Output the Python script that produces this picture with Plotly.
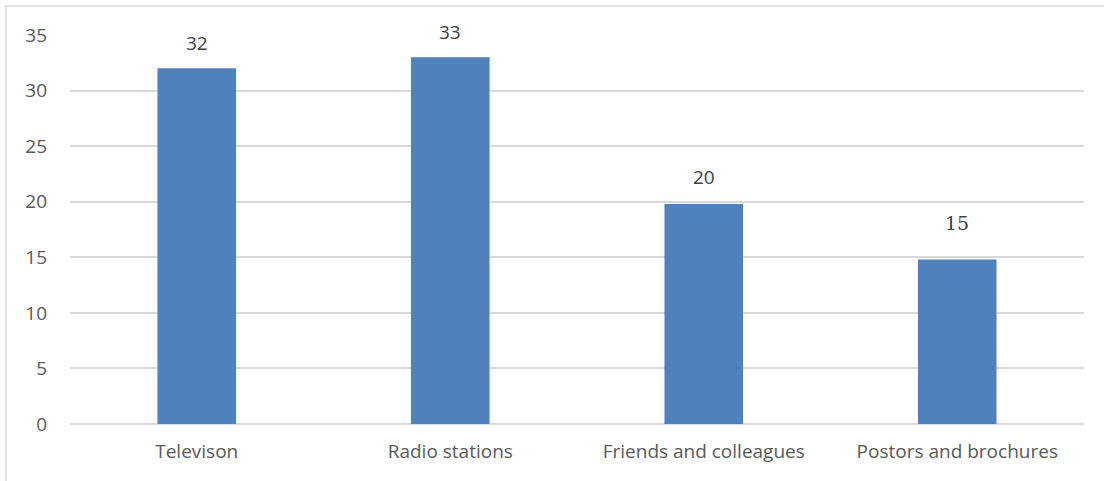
import plotly.graph_objects as go

categories = ["Televison", "Radio stations", "Friends and colleagues", "Postors and brochures"]
values = [32, 33, 19.8, 14.8]
labels = ["32", "33", "20", "15"]
label_fonts = ["Open Sans", "Open Sans", "Open Sans", "DejaVu Serif"]
label_shift = [10, 10, 12, 24]
y_ticks = [0, 5, 10, 15, 20, 25, 30, 35]

fig = go.Figure()
fig.add_trace(go.Bar(
    x=categories, y=values,
    marker=dict(color="#4f81bd", line=dict(width=0)),
    width=0.31,
    hoverinfo="skip",
))

for c, v, t, f, s in zip(categories, values, labels, label_fonts, label_shift):
    fig.add_annotation(
        x=c, y=v, text=t, showarrow=False, yanchor="bottom", yshift=s,
        font=dict(family=f, size=19, color="#404040"),
    )

fig.add_shape(
    type="rect", xref="paper", yref="paper",
    x0=-0.0631, x1=1.05, y0=-0.3, y1=1.0745,
    line=dict(color="#d9d9d9", width=1.5), layer="below",
)

fig.update_layout(
    width=1104, height=481,
    margin=dict(l=70, r=20, t=35, b=57),
    paper_bgcolor="white", plot_bgcolor="white",
    showlegend=False,
    font=dict(family="Open Sans", size=19, color="#595959"),
    bargap=0.69,
)
fig.update_xaxes(
    showgrid=False, showline=False, zeroline=False,
    ticks="", ticklabelstandoff=14,
    tickfont=dict(family="Open Sans", size=19, color="#595959"),
)
fig.update_yaxes(
    range=[0, 35], tickvals=y_ticks,
    showgrid=True, gridcolor="#d9d9d9", gridwidth=1.5,
    zeroline=True, zerolinecolor="#d9d9d9", zerolinewidth=1.5,
    showline=False, ticks="", ticklabelstandoff=22,
    tickfont=dict(family="Open Sans", size=19, color="#595959"),
)

fig.write_html("out.html")
